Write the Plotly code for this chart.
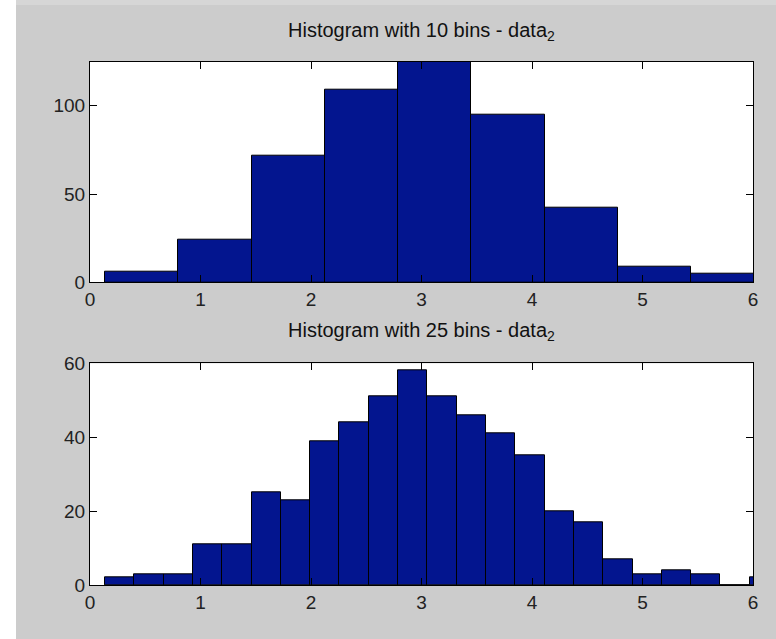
import numpy as np
import plotly.graph_objects as go

# ---- data ----
data_min = 0.136
data_max = 6.766
top_nbins = 10
bot_nbins = 25
top_counts = [6, 24, 72, 109, 131, 95, 42, 9, 5]
bot_counts = [2, 3, 3, 11, 11, 25, 23, 39, 44, 51, 58, 51, 46, 41, 35, 20, 17, 7, 3, 4, 3, 0, 2]
top_title = "Histogram with 10 bins - data<sub>2</sub>"
bot_title = "Histogram with 25 bins - data<sub>2</sub>"
x_ticks = [0, 1, 2, 3, 4, 5, 6]
top_yticks = [0, 50, 100]
bot_yticks = [0, 20, 40, 60]

W, H = 776, 639
BAR = "#03158f"
FONT = "Liberation Sans, Arial, sans-serif"


def bins(nb, counts):
    w = (data_max - data_min) / nb
    edges = data_min + w * np.arange(len(counts))
    return edges + w / 2, w


fig = go.Figure()
for counts, nb, ax in [(top_counts, top_nbins, ""), (bot_counts, bot_nbins, "2")]:
    c, w = bins(nb, counts)
    fig.add_trace(go.Bar(x=c, y=counts, width=w, marker=dict(color=BAR, line=dict(color="black", width=1)),
                         xaxis="x" + ax, yaxis="y" + ax, showlegend=False))

xd = [90 / W, 753 / W]
top_dom = [1 - 282.3 / H, 1 - 61.7 / H]
bot_dom = [1 - 585 / H, 1 - 363.3 / H]

axis_common = dict(showline=True, linecolor="black", linewidth=1, mirror="ticks", ticks="inside",
                   ticklen=7, tickcolor="black", showgrid=False, zeroline=False, automargin=False,
                   tickfont=dict(family=FONT, size=19, color="#222"))

fig.update_layout(
    width=W, height=H, autosize=False,
    margin=dict(l=0, r=0, t=0, b=0, pad=0, autoexpand=False),
    paper_bgcolor="#cccccc", plot_bgcolor="white", bargap=0,
    xaxis=dict(domain=xd, range=[0, 6], tickvals=x_ticks, anchor="y", **axis_common),
    yaxis=dict(domain=top_dom, range=[0, 125], tickvals=top_yticks, anchor="x", **axis_common),
    xaxis2=dict(domain=xd, range=[0, 6], tickvals=x_ticks, anchor="y2", **axis_common),
    yaxis2=dict(domain=bot_dom, range=[0, 60], tickvals=bot_yticks, anchor="x2", **axis_common),
    shapes=[
        dict(type="rect", xref="paper", yref="paper", x0=0, x1=16 / W, y0=0, y1=1,
             fillcolor="white", line=dict(width=0), layer="below"),
        dict(type="rect", xref="paper", yref="paper", x0=16 / W, x1=1, y0=1 - 5 / H, y1=1,
             fillcolor="#d6d6d6", line=dict(width=0), layer="below"),
    ],
    annotations=[
        dict(text=top_title, x=(xd[0] + xd[1]) / 2, y=1 - 31 / H, xref="paper", yref="paper",
             showarrow=False, xanchor="center", yanchor="middle",
             font=dict(family=FONT, size=20, color="#111")),
        dict(text=bot_title, x=(xd[0] + xd[1]) / 2, y=1 - 332 / H, xref="paper", yref="paper",
             showarrow=False, xanchor="center", yanchor="middle",
             font=dict(family=FONT, size=20, color="#111")),
    ],
)

fig.write_html("out.html")
